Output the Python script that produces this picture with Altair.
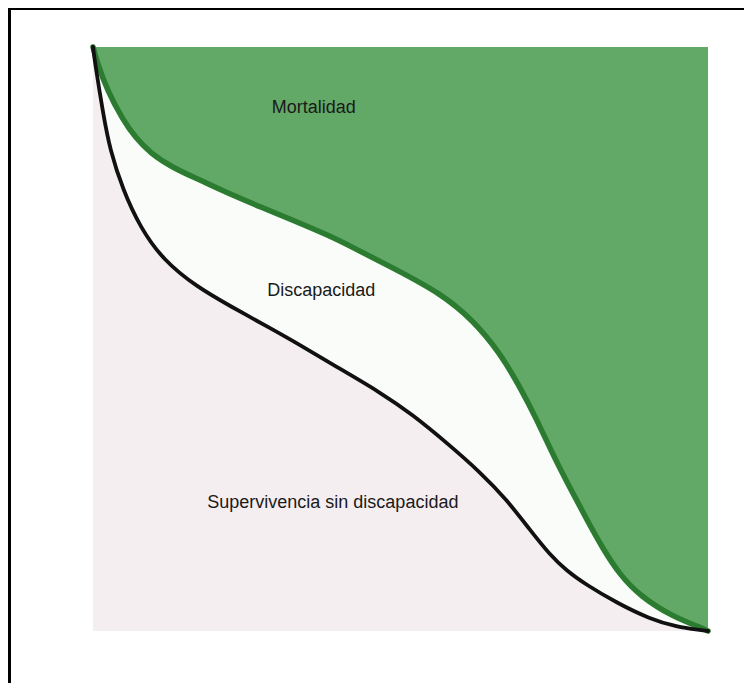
import altair as alt
import pandas as pd

# Total survival curve (green boundary: above it = Mortalidad)
green_x = [0, 0.65, 2.28, 4.88, 6.83, 9.27, 13.01, 17.40, 21.14, 27.64, 32.03, 38.54, 41.79,
           49.43, 56.42, 61.79, 66.18, 69.43, 72.20, 74.80, 77.56, 80.33, 82.93, 85.69,
           88.94, 94.31, 98.70, 100]
green_y = [100, 97.43, 92.64, 87.5, 84.59, 81.85, 79.28, 77.23, 75.34, 72.43, 70.55, 67.64, 65.92,
           61.82, 57.88, 53.25, 47.60, 41.78, 36.13, 30.14, 24.49, 19.01, 14.04, 9.59,
           5.99, 2.40, 0.68, 0]

# Disability-free survival curve (black boundary)
black_x = [0, 0.33, 1.63, 2.76, 4.88, 7.64, 11.38, 16.91, 22.28, 28.78, 33.66, 38.54, 46.67,
           52.03, 57.56, 62.93, 67.32, 71.06, 74.31, 77.07, 80.0, 85.20, 90.57, 94.96, 98.70, 100]
black_y = [100, 97.26, 88.70, 82.36, 75.51, 69.18, 63.53, 58.90, 55.65, 51.88, 48.97, 45.89, 40.92,
           36.99, 32.19, 27.23, 22.43, 17.29, 13.01, 10.27, 8.05, 4.79, 2.05, 0.68, 0.17, 0]

labels = ["Mortalidad", "Discapacidad", "Supervivencia sin discapacidad"]
label_x = [35.9, 37.1, 39.0]
label_y = [89.6, 58.2, 21.9]

gdf = pd.DataFrame({"x": green_x, "y": green_y})
bdf = pd.DataFrame({"x": black_x, "y": black_y})
ldf = pd.DataFrame({"label": labels, "x": label_x, "y": label_y})

xs = alt.Scale(domain=[0, 100], nice=False, zero=False)
ys = alt.Scale(domain=[0, 100], nice=False, zero=True)
X = alt.X("x:Q", scale=xs, axis=None)
Y = alt.Y("y:Q", scale=ys, axis=None)

W, H = 615, 584
PL, PT, PR, PB = 85, 39, 36, 52
INTERP = "basis"

white_area = alt.Chart(gdf).mark_area(color="#fafcf9", interpolate=INTERP, clip=True).encode(x=X, y=Y)
pink_area = alt.Chart(bdf).mark_area(color="#f5eef1", interpolate=INTERP, clip=True).encode(x=X, y=Y)
green_line = alt.Chart(gdf).mark_line(color="#2b7c30", strokeWidth=5.5, interpolate=INTERP,
                                      strokeCap="round").encode(x=X, y=Y)
black_line = alt.Chart(bdf).mark_line(color="#111111", strokeWidth=3.8, interpolate=INTERP,
                                      strokeCap="round").encode(x=X, y=Y)
text = alt.Chart(ldf).mark_text(font="Liberation Sans", fontSize=18, color="#1a1a1a",
                                align="center", baseline="middle").encode(
    x=X, y=Y, text="label:N")

border_top = alt.Chart(gdf).mark_rule(color="#000000", strokeWidth=1.5).encode(
    x=alt.value(-PL + 1), x2=alt.value(W + PR), y=alt.value(-PT + 0.75))
border_left = alt.Chart(gdf).mark_rule(color="#000000", strokeWidth=1.5).encode(
    x=alt.value(-PL + 1.5), y=alt.value(-PT), y2=alt.value(H + PB))

chart = alt.layer(white_area, pink_area, green_line, black_line, text, border_top, border_left).properties(
    width=W, height=H,
    padding={"left": PL, "top": PT, "right": PR, "bottom": PB},
    autosize=alt.AutoSizeParams(type="none"),
    background="#ffffff",
).configure_view(fill="#62a866", stroke=None)

chart.save("out.html", embed_options={"renderer": "svg", "actions": False})
